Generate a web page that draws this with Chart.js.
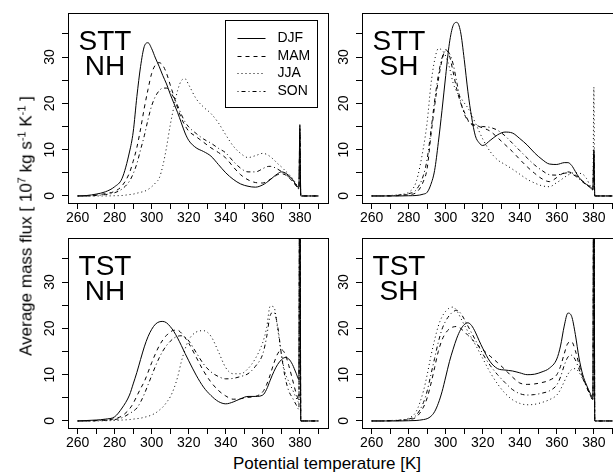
<!DOCTYPE html>
<html>
<head>
<meta charset="utf-8">
<script src="https://cdn.jsdelivr.net/npm/chart.js@4/dist/chart.umd.min.js"></script>
<style>
html, body { margin: 0; padding: 0; background: #fff; }
body { width: 613px; height: 473px; overflow: hidden; position: relative; font-family: 'Liberation Sans', Arial, Helvetica, sans-serif; color: #000; }
canvas { position: absolute; }
.axtitle { position: absolute; white-space: nowrap; font-size: 17px; line-height: 1; }
#ytitle { left: 26px; top: 226px; transform: translate(-50%, -50%) rotate(-90deg); }
#xtitle { left: 327px; top: 463px; transform: translate(-50%, -50%); }
sup { font-size: 11px; vertical-align: 6px; line-height: 0; }
</style>
</head>
<body>
<canvas id="sttNh" width="330" height="225" style="left:0px;top:0px"></canvas>
<canvas id="sttSh" width="330" height="225" style="left:294px;top:0px"></canvas>
<canvas id="tstNh" width="330" height="225" style="left:0px;top:225px"></canvas>
<canvas id="tstSh" width="330" height="225" style="left:294px;top:225px"></canvas>
<div class="axtitle" id="ytitle">Average mass flux [ 10<sup>7</sup> kg s<sup>-1</sup> K<sup>-1</sup> ]</div>
<div class="axtitle" id="xtitle">Potential temperature [K]</div>
<script>
const FONT = "'Liberation Sans', Arial, Helvetica, sans-serif";

// potential temperature (K) at which the curves are read
const theta = [260, 265, 270, 275, 280, 284, 288, 290, 292, 294, 296, 298,
  300, 302, 304, 306, 308, 310, 312, 314, 316, 318, 320,
  324, 328, 332, 336, 340, 344, 348, 352, 356, 360,
  362, 364, 366, 368, 370, 372, 374, 376, 378, 379.5, 380, 380.5, 390];

const seasons = ['DJF', 'MAM', 'JJA', 'SON'];

const xTicks = [260, 270, 280, 290, 300, 310, 320, 330, 340, 350, 360, 370, 380, 390];
const xLabels = [260, 280, 300, 320, 340, 360, 380];
const yTicks = [0, 5, 10, 15, 20, 25, 30, 35];
const yLabels = [0, 10, 20, 30];

// STT NH
const sttNhDjf = [0, 0.1, 0.4, 0.9, 2.0, 3.8, 9.5, 13.8, 21.5, 28, 32.3, 33.1,
  31.8, 29.8, 28, 26, 24.2, 22, 20, 18, 15.8, 13.6, 12.0,
  10.4, 9.6, 8.6, 6.8, 5.0, 3.6, 2.6, 2.1, 1.9, 2.4,
  2.9, 3.5, 4.2, 4.8, 5.2, 5.0, 4.4, 3.6, 2.4, 1.8, 15.4, 0, 0];
const sttNhMam = [0, 0, 0.2, 0.5, 1.0, 2.2, 5.0, 7.5, 10.5, 14.5, 19, 23,
  26.5, 28.3, 28.8, 28.2, 26.5, 24, 21.5, 19, 16.8, 15.2, 14.0,
  12.8, 11.6, 10.4, 9.4, 8.2, 6.3, 4.6, 3.5, 2.9, 2.8,
  3.1, 3.6, 4.1, 4.6, 4.8, 4.6, 4.0, 3.2, 2.2, 1.6, 14.5, 0, 0];
const sttNhJja = [0, 0, 0, 0, 0.05, 0.1, 0.3, 0.4, 0.6, 0.8, 1.0, 1.4,
  2.0, 2.8, 3.8, 6.5, 10.5, 15.3, 19.3, 22.8, 24.9, 25.3, 24.0,
  21.0, 19.2, 17.8, 15.8, 13.2, 10.8, 9.2, 8.3, 8.7, 9.2,
  9.0, 8.5, 7.8, 7.0, 6.3, 5.5, 4.7, 3.8, 2.6, 1.5, 13, 0, 0];
const sttNhSon = [0, 0, 0.1, 0.3, 0.7, 1.5, 3.2, 4.8, 7, 10, 13, 16.5,
  19.5, 21.5, 22.7, 23.3, 23.3, 22.5, 21.2, 19.5, 17.6, 16, 14.9,
  13.5, 12.3, 11.4, 10.3, 9.3, 7.5, 6.0, 5.2, 5.2, 5.9,
  6.3, 6.4, 6.2, 5.8, 5.3, 4.8, 4.1, 3.3, 2.2, 1.5, 14, 0, 0];

// STT SH
const sttShDjf = [0, 0, 0, 0, 0.05, 0.1, 0.4, 0.8, 2.5, 5.5, 11.5, 18.5,
  26, 33, 36.8, 37.5, 35.5, 29.5, 22.5, 17, 13, 11.5, 10.9,
  12.0, 13.2, 13.8, 13.6, 12.4, 11, 9.3, 7.9, 6.9, 6.8,
  7.0, 7.2, 7.2, 6.6, 5.3, 4.0, 3.1, 2.5, 2.0, 1.5, 10, 0, 0];
const sttShMam = [0, 0, 0, 0.1, 0.3, 0.7, 3.2, 6, 13, 19.4, 25, 29.3,
  31.6, 30.3, 26.8, 23, 20.2, 18.2, 16.4, 15.4, 15.2, 15.0, 14.7,
  14.0, 12.6, 11.1, 9.6, 7.9, 6.3, 4.9, 3.7, 3.1, 4.0,
  4.6, 5.0, 5.2, 5.0, 4.5, 3.9, 3.2, 2.5, 1.8, 1.3, 9.5, 0, 0];
const sttShJja = [0, 0, 0.1, 0.3, 0.8, 3.0, 10.5, 16, 24, 29.3, 31.8, 31.5,
  30.2, 27.8, 24.4, 22.5, 21.3, 20.1, 19, 17.5, 15.8, 14, 12.3,
  9.6, 7.8, 6.8, 5.8, 4.7, 3.6, 2.8, 2.2, 2.0, 2.9,
  3.4, 4.0, 4.5, 4.9, 5.0, 4.9, 4.7, 3.8, 2.2, 1.4, 23.5, 0, 0];
const sttShSon = [0, 0, 0.05, 0.2, 0.5, 1.3, 4.5, 8, 14, 20.5, 26, 29.8,
  31.3, 30.8, 28.5, 24.5, 20.5, 17.8, 16.2, 15.6, 15.3, 15.1, 15.0,
  14.8, 14.2, 13, 11.4, 9.8, 8.2, 6.7, 5.5, 4.6, 4.5,
  4.7, 4.9, 5.0, 4.8, 4.3, 3.7, 3.0, 2.4, 1.8, 1.3, 8.5, 0, 0];

// TST NH
const tstNhDjf = [0, 0.1, 0.2, 0.4, 0.9, 2.8, 5.6, 8, 10.5, 13.3, 16, 18.2,
  19.8, 20.9, 21.4, 21.5, 21.2, 20.4, 19.3, 17.9, 16.3, 14.6, 13,
  9.9, 7.3, 5.5, 4.2, 3.7, 4.1, 4.8, 5.3, 5.3, 5.6,
  6.8, 8.8, 10.7, 12.2, 13.2, 13.7, 13.4, 12.2, 10.3, 9, 80, 0, 0];
const tstNhMam = [0, 0, 0.1, 0.2, 0.5, 1.1, 2.6, 3.8, 5.4, 7, 8.5, 10.5,
  12.6, 14.5, 16.2, 17.5, 18.5, 19.2, 19.6, 19.6, 19.0, 18.0, 16.8,
  13.8, 10.8, 8.4, 6.6, 5.4, 4.7, 4.8, 5.1, 5.3, 6.3,
  7.8, 10, 12.5, 14.5, 15.4, 14.5, 12, 9, 6, 4.5, 80, 0, 0];
const tstNhJja = [0, 0, 0, 0.05, 0.1, 0.2, 0.3, 0.4, 0.5, 0.6, 0.8, 1.0,
  1.3, 1.7, 2.3, 3.0, 4.0, 5.2, 7.0, 9.5, 12.8, 15.5, 17.5,
  19.2, 19.5, 18.3, 15, 11.5, 10.2, 10.2, 11.3, 13.5, 17,
  20, 24.8, 24.6, 20, 14.5, 10.5, 8.5, 6.8, 5.0, 4.0, 80, 0, 0];
const tstNhSon = [0, 0, 0.05, 0.15, 0.3, 0.7, 1.6, 2.1, 2.8, 4.1, 5.8, 7.8,
  9.8, 11.8, 13.6, 15.1, 16.3, 17.2, 17.9, 18.3, 18.4, 18.1, 17.3,
  14.8, 12.3, 10.6, 9.6, 9.1, 9.2, 9.6, 10.2, 11.8, 14.5,
  18, 22.8, 23.5, 20.5, 14.5, 9.5, 6.5, 5, 3.5, 2.5, 80, 0, 0];

// TST SH
const tstShDjf = [0, 0, 0, 0, 0.05, 0.1, 0.3, 0.5, 1.0, 2.0, 3.8, 6.3,
  9.5, 12.8, 15.5, 17.9, 19.7, 20.8, 21.2, 20.6, 19.2, 17.4, 15.7,
  12.8, 11.3, 11.0, 10.8, 10.4, 10.0, 10.1, 10.6, 11.4, 13.4,
  16.2, 20.5, 23.3, 22.6, 18.7, 13.6, 10, 7.8, 6.0, 4.9, 80, 0, 0];
const tstShMam = [0, 0, 0.05, 0.1, 0.3, 0.8, 3.0, 5, 8, 11.5, 15, 17.5,
  19, 19.9, 20.3, 20.4, 20, 19.3, 18.5, 17.7, 16.9, 16.1, 15.4,
  14.0, 12.6, 11.1, 9.5, 8.2, 7.9, 8.0, 8.3, 8.8, 10.0,
  11.8, 14.5, 16.8, 17.1, 15.2, 12.2, 9.5, 7.5, 5.6, 4.6, 80, 0, 0];
const tstShJja = [0, 0, 0.1, 0.2, 0.6, 2.0, 6.5, 10, 14, 17.5, 20.5, 22.5,
  23.7, 24.4, 24.6, 23.8, 22.3, 20.8, 19.3, 17.9, 16.5, 15, 13.5,
  10.5, 8.0, 6.0, 4.6, 3.8, 3.5, 3.6, 4.0, 4.6, 5.6,
  6.8, 8.5, 10.1, 11.1, 11.3, 10.5, 9.1, 7.6, 5.8, 4.8, 80, 0, 0];
const tstShSon = [0, 0, 0.05, 0.15, 0.4, 1.2, 4, 6.5, 10, 13.5, 17, 19.8,
  21.6, 22.8, 23.6, 23.9, 23.3, 22, 20.5, 19, 17.5, 16, 14.5,
  12, 10, 8.3, 6.8, 5.9, 5.6, 5.7, 6.0, 6.5, 7.8,
  9.5, 12, 13.8, 14.2, 13.2, 11.2, 9.2, 7.4, 5.6, 4.6, 80, 0, 0];

const dashes = [[], [4, 4], [1, 3], [1, 3, 4, 3]];

// box, panel name and (optional) legend
const panelDecor = {
  id: 'panelDecor',
  afterDraw(chart, args, opts) {
    const ctx = chart.ctx;
    const a = chart.chartArea;
    ctx.save();
    ctx.strokeStyle = '#000';
    ctx.fillStyle = '#000';
    ctx.lineWidth = 1;
    ctx.strokeRect(Math.round(a.left) + 0.5, Math.round(a.top) + 0.5,
      Math.round(a.right - a.left), Math.round(a.bottom - a.top));

    ctx.font = '28px ' + FONT;
    ctx.textAlign = 'center';
    ctx.textBaseline = 'alphabetic';
    ctx.fillText(opts.name[0], a.left + 37, a.top + 37);
    ctx.fillText(opts.name[1], a.left + 37, a.top + 62);

    if (opts.legend) {
      const lx = Math.round(a.right - 103) + 0.5;
      const ly = Math.round(a.top + 7) + 0.5;
      ctx.strokeRect(lx, ly, 92, 87);
      ctx.font = '14px ' + FONT;
      ctx.textAlign = 'left';
      ctx.textBaseline = 'middle';
      chart.data.datasets.forEach((ds, i) => {
        const y = Math.round(ly + 17.5 * (i + 1)) + 0.5;
        ctx.setLineDash(ds.borderDash);
        ctx.beginPath();
        ctx.moveTo(lx + 12, y);
        ctx.lineTo(lx + 40, y);
        ctx.stroke();
        ctx.setLineDash([]);
        ctx.fillText(ds.label, lx + 52, y);
      });
    }
    ctx.restore();
  }
};

function makePanel(id, name, series, legend) {
  new Chart(document.getElementById(id), {
    type: 'line',
    data: {
      datasets: series.map((vals, i) => ({
        label: seasons[i],
        data: theta.map((t, k) => ({ x: t, y: vals[k] })),
        borderColor: '#000',
        borderWidth: 1,
        borderDash: dashes[i],
        pointRadius: 0,
        fill: false,
        cubicInterpolationMode: 'monotone'
      }))
    },
    options: {
      responsive: false,
      animation: false,
      devicePixelRatio: 1,
      layout: { padding: { top: 13, right: 2, left: 0, bottom: 0 } },
      plugins: {
        legend: { display: false },
        tooltip: { enabled: false },
        panelDecor: { name: name, legend: legend }
      },
      scales: {
        x: {
          type: 'linear',
          min: 254.8,
          max: 395.2,
          afterBuildTicks: s => { s.ticks = xTicks.map(v => ({ value: v })); },
          afterFit: s => { s.height = 22; },
          ticks: {
            autoSkip: false, maxRotation: 0, minRotation: 0, padding: 1,
            color: '#000', font: { family: FONT, size: 14 },
            callback: v => xLabels.includes(v) ? String(v) : ''
          },
          grid: { drawOnChartArea: false, tickLength: 6, tickColor: '#000', color: '#000' },
          border: { display: false }
        },
        y: {
          type: 'linear',
          min: -1.52,
          max: 39.52,
          afterBuildTicks: s => { s.ticks = yTicks.map(v => ({ value: v })); },
          afterFit: s => { s.width = 68; },
          ticks: {
            autoSkip: false, minRotation: 90, maxRotation: 90, crossAlign: 'center', padding: 4,
            color: '#000', font: { family: FONT, size: 14 },
            callback: v => yLabels.includes(v) ? String(v) : ''
          },
          grid: { drawOnChartArea: false, tickLength: 6, tickColor: '#000', color: '#000' },
          border: { display: false }
        }
      }
    },
    plugins: [panelDecor]
  });
}

makePanel('sttNh', ['STT', 'NH'], [sttNhDjf, sttNhMam, sttNhJja, sttNhSon], true);
makePanel('sttSh', ['STT', 'SH'], [sttShDjf, sttShMam, sttShJja, sttShSon], false);
makePanel('tstNh', ['TST', 'NH'], [tstNhDjf, tstNhMam, tstNhJja, tstNhSon], false);
makePanel('tstSh', ['TST', 'SH'], [tstShDjf, tstShMam, tstShJja, tstShSon], false);
</script>
</body>
</html>
